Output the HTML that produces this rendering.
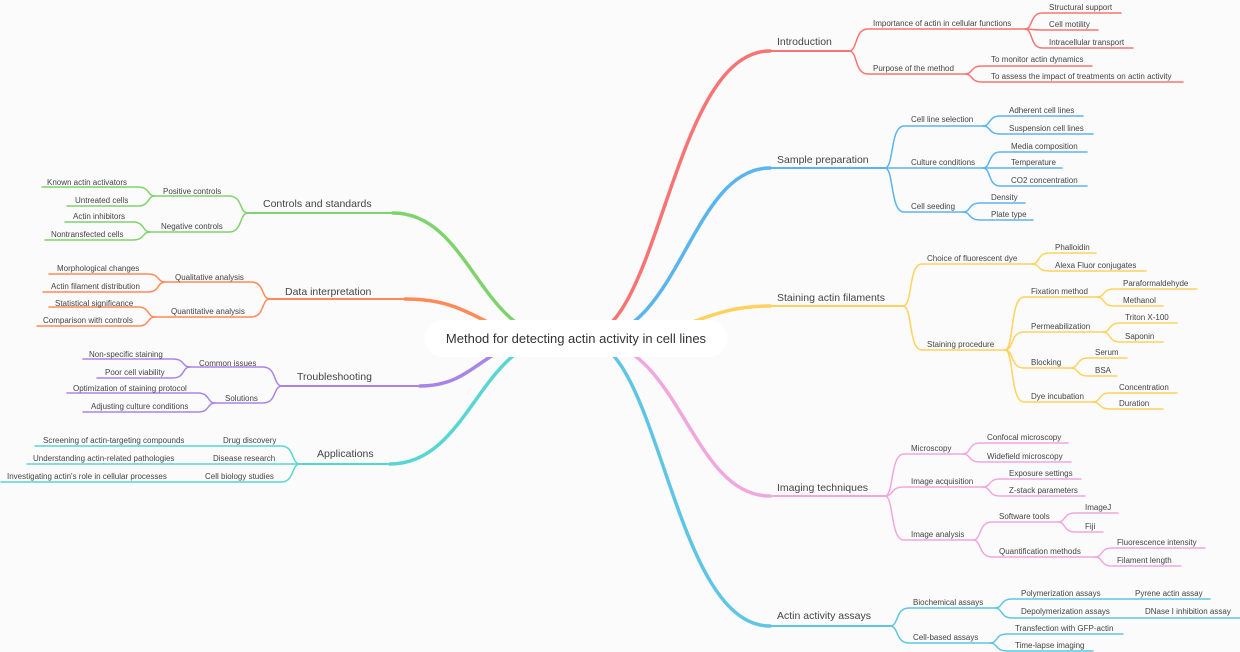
<!DOCTYPE html>
<html><head><meta charset="utf-8"><style>
html,body{margin:0;padding:0;background:#fbfbfb;}
svg{display:block;}
text{font-family:"Liberation Sans",sans-serif;fill:#444;}
.s{font-size:8px;}
.m{font-size:10.5px;fill:#333;}
path{fill:none;stroke-linecap:round;}
</style></head><body>
<svg width="1240" height="652" viewBox="0 0 1240 652" xmlns="http://www.w3.org/2000/svg">
<g stroke-width="3.5">
<path stroke="#f87474" d="M585 336 C660 336 672 51 770 51"/>
<path stroke="#5ab4ee" d="M590 338 C680 338 690 168 770 168"/>
<path stroke="#ffd25e" d="M600 338 C690 338 700 306 770 306"/>
<path stroke="#f2a6de" d="M590 340 C680 340 690 496 770 496"/>
<path stroke="#5ec6e4" d="M585 340 C660 340 672 626 770 626"/>
<path stroke="#7fd36c" d="M560 338 C480 338 470 213 393 213"/>
<path stroke="#ff8a58" d="M560 338 C480 338 480 299 405 299"/>
<path stroke="#a984e8" d="M560 338 C480 338 480 386 420 386"/>
<path stroke="#58d6d2" d="M560 338 C480 338 470 464 390 464"/>
</g>
<g stroke-width="2">
<path stroke="#f87474" d="M765 51 L849 51"/>
<path stroke="#5ab4ee" d="M765 168 L885 168"/>
<path stroke="#ffd25e" d="M765 306 L903 306"/>
<path stroke="#f2a6de" d="M765 496 L885 496"/>
<path stroke="#5ec6e4" d="M765 626 L890 626"/>
<path stroke="#7fd36c" d="M248 213 L398 213"/>
<path stroke="#ff8a58" d="M270 299 L410 299"/>
<path stroke="#a984e8" d="M282 386 L425 386"/>
<path stroke="#58d6d2" d="M300 464 L395 464"/>
</g>
<g class="m">
<text x="777" y="45">Introduction</text>
<text x="777" y="163">Sample preparation</text>
<text x="777" y="301">Staining actin filaments</text>
<text x="777" y="491">Imaging techniques</text>
<text x="777" y="619">Actin activity assays</text>
<text x="263" y="207">Controls and standards</text>
<text x="285" y="295">Data interpretation</text>
<text x="297" y="380">Troubleshooting</text>
<text x="317" y="457">Applications</text>
</g>

<g stroke="#f87474" stroke-width="1.5">
<path d="M849 51 C858 51 854 29 868 29 L1025 29"/>
<path d="M849 51 C858 51 854 74 868 74 L965 74"/>
<path d="M1025 29 C1033 29 1030 13 1042 13 L1121 13"/>
<path d="M1025 29 C1033 29 1030 30 1042 30 L1098 30"/>
<path d="M1025 29 C1033 29 1030 48 1042 48 L1133 48"/>
<path d="M965 74 C973 74 970 66 982 66 L1092 66"/>
<path d="M965 74 C973 74 970 82 982 82 L1183 82"/>
</g>
<g class="s">
<text x="873" y="26">Importance of actin in cellular functions</text>
<text x="873" y="71">Purpose of the method</text>
<text x="1049" y="10">Structural support</text>
<text x="1049" y="27">Cell motility</text>
<text x="1049" y="45">Intracellular transport</text>
<text x="991" y="62">To monitor actin dynamics</text>
<text x="991" y="79">To assess the impact of treatments on actin activity</text>
</g>

<g stroke="#5ab4ee" stroke-width="1.5">
<path d="M885 168 C894 168 890 126 904 126 L983 126"/>
<path d="M885 168 L983 168"/>
<path d="M885 168 C894 168 890 212 904 212 L963 212"/>
<path d="M983 126 C991 126 988 116 1000 116 L1083 116"/>
<path d="M983 126 C991 126 988 134 1000 134 L1093 134"/>
<path d="M983 168 C991 168 988 152 1000 152 L1087 152"/>
<path d="M983 168 L1062 168"/>
<path d="M983 168 C991 168 988 186 1000 186 L1087 186"/>
<path d="M963 212 C971 212 968 203 980 203 L1025 203"/>
<path d="M963 212 C971 212 968 220 980 220 L1033 220"/>
</g>
<g class="s">
<text x="911" y="122">Cell line selection</text>
<text x="911" y="165">Culture conditions</text>
<text x="911" y="209">Cell seeding</text>
<text x="1009" y="113">Adherent cell lines</text>
<text x="1009" y="131">Suspension cell lines</text>
<text x="1011" y="149">Media composition</text>
<text x="1011" y="165">Temperature</text>
<text x="1011" y="183">CO2 concentration</text>
<text x="991" y="200">Density</text>
<text x="991" y="217">Plate type</text>
</g>

<g stroke="#ffd25e" stroke-width="1.5">
<path d="M903 306 C913 306 908 264 922 264 L1032 264"/>
<path d="M903 306 C913 306 908 350 922 350 L1005 350"/>
<path d="M1032 264 C1040 264 1037 253 1049 253 L1096 253"/>
<path d="M1032 264 C1040 264 1037 271 1049 271 L1146 271"/>
<path d="M1005 350 C1014 350 1010 297 1024 297 L1097 297"/>
<path d="M1005 350 C1014 350 1010 332 1024 332 L1103 332"/>
<path d="M1005 350 C1014 350 1010 368 1024 368 L1071 368"/>
<path d="M1005 350 C1014 350 1010 402 1024 402 L1093 402"/>
<path d="M1097 297 C1105 297 1102 289 1114 289 L1197 289"/>
<path d="M1097 297 C1105 297 1102 306 1114 306 L1163 306"/>
<path d="M1103 332 C1111 332 1108 323 1120 323 L1177 323"/>
<path d="M1103 332 C1111 332 1108 342 1120 342 L1163 342"/>
<path d="M1071 368 C1079 368 1076 358 1088 358 L1127 358"/>
<path d="M1071 368 C1079 368 1076 376 1088 376 L1117 376"/>
<path d="M1093 402 C1101 402 1098 393 1110 393 L1177 393"/>
<path d="M1093 402 C1101 402 1098 409 1110 409 L1163 409"/>
</g>
<g class="s">
<text x="927" y="261">Choice of fluorescent dye</text>
<text x="927" y="347">Staining procedure</text>
<text x="1055" y="250">Phalloidin</text>
<text x="1055" y="268">Alexa Fluor conjugates</text>
<text x="1031" y="294">Fixation method</text>
<text x="1031" y="329">Permeabilization</text>
<text x="1031" y="365">Blocking</text>
<text x="1031" y="399">Dye incubation</text>
<text x="1123" y="286">Paraformaldehyde</text>
<text x="1123" y="303">Methanol</text>
<text x="1125" y="320">Triton X-100</text>
<text x="1125" y="339">Saponin</text>
<text x="1095" y="355">Serum</text>
<text x="1095" y="373">BSA</text>
<text x="1119" y="390">Concentration</text>
<text x="1119" y="406">Duration</text>
</g>

<g stroke="#f2a6de" stroke-width="1.5">
<path d="M885 496 C894 496 890 454 904 454 L963 454"/>
<path d="M885 496 C894 496 890 487 904 487 L983 487"/>
<path d="M885 496 C894 496 890 540 904 540 L973 540"/>
<path d="M963 454 C971 454 968 443 980 443 L1068 443"/>
<path d="M963 454 C971 454 968 462 980 462 L1071 462"/>
<path d="M983 487 C991 487 988 479 1000 479 L1081 479"/>
<path d="M983 487 C991 487 988 496 1000 496 L1085 496"/>
<path d="M973 540 C982 540 978 522 992 522 L1058 522"/>
<path d="M973 540 C982 540 978 557 992 557 L1095 557"/>
<path d="M1058 522 C1066 522 1063 513 1075 513 L1118 513"/>
<path d="M1058 522 C1066 522 1063 532 1075 532 L1103 532"/>
<path d="M1095 557 C1103 557 1100 548 1112 548 L1205 548"/>
<path d="M1095 557 C1103 557 1100 566 1112 566 L1181 566"/>
</g>
<g class="s">
<text x="911" y="451">Microscopy</text>
<text x="911" y="484">Image acquisition</text>
<text x="911" y="537">Image analysis</text>
<text x="987" y="440">Confocal microscopy</text>
<text x="987" y="459">Widefield microscopy</text>
<text x="1009" y="476">Exposure settings</text>
<text x="1009" y="493">Z-stack parameters</text>
<text x="999" y="519">Software tools</text>
<text x="999" y="554">Quantification methods</text>
<text x="1085" y="510">ImageJ</text>
<text x="1085" y="529">Fiji</text>
<text x="1117" y="545">Fluorescence intensity</text>
<text x="1117" y="563">Filament length</text>
</g>

<g stroke="#5ec6e4" stroke-width="1.5">
<path d="M890 626 C899 626 895 608 909 608 L995 608"/>
<path d="M890 626 C899 626 895 643 909 643 L990 643"/>
<path d="M995 608 C1003 608 1000 599 1012 599 L1210 599"/>
<path d="M995 608 C1003 608 1000 618 1012 618 L1240 618"/>
<path d="M990 643 C998 643 995 634 1007 634 L1123 634"/>
<path d="M990 643 C998 643 995 651 1007 651 L1093 651"/>
</g>
<g class="s">
<text x="913" y="605">Biochemical assays</text>
<text x="913" y="640">Cell-based assays</text>
<text x="1021" y="596">Polymerization assays</text>
<text x="1135" y="596">Pyrene actin assay</text>
<text x="1021" y="614">Depolymerization assays</text>
<text x="1145" y="614">DNase I inhibition assay</text>
<text x="1015" y="631">Transfection with GFP-actin</text>
<text x="1015" y="648">Time-lapse imaging</text>
</g>

<g stroke="#7fd36c" stroke-width="1.5">
<path d="M248 213 C239 213 243 196 229 196 L155 196"/>
<path d="M248 213 C239 213 243 232 229 232 L150 232"/>
<path d="M155 196 C147 196 150 187 138 187 L42 187"/>
<path d="M155 196 C147 196 150 206 138 206 L67 206"/>
<path d="M150 232 C142 232 145 222 133 222 L65 222"/>
<path d="M150 232 C142 232 145 240 133 240 L45 240"/>
</g>
<g class="s">
<text x="163" y="194">Positive controls</text>
<text x="161" y="229">Negative controls</text>
<text x="47" y="185">Known actin activators</text>
<text x="75" y="203">Untreated cells</text>
<text x="73" y="219">Actin inhibitors</text>
<text x="51" y="237">Nontransfected cells</text>
</g>

<g stroke="#ff8a58" stroke-width="1.5">
<path d="M270 299 C261 299 265 282 251 282 L165 282"/>
<path d="M270 299 C261 299 265 317 251 317 L155 317"/>
<path d="M165 282 C157 282 160 274 148 274 L49 274"/>
<path d="M165 282 C157 282 160 292 148 292 L43 292"/>
<path d="M155 317 C147 317 150 307 138 307 L49 307"/>
<path d="M155 317 C147 317 150 326 138 326 L37 326"/>
</g>
<g class="s">
<text x="175" y="280">Qualitative analysis</text>
<text x="171" y="314">Quantitative analysis</text>
<text x="57" y="271">Morphological changes</text>
<text x="51" y="289">Actin filament distribution</text>
<text x="55" y="306">Statistical significance</text>
<text x="43" y="323">Comparison with controls</text>
</g>

<g stroke="#a984e8" stroke-width="1.5">
<path d="M282 386 C273 386 277 367 263 367 L190 367"/>
<path d="M282 386 C273 386 277 403 263 403 L215 403"/>
<path d="M190 367 C182 367 185 359 173 359 L83 359"/>
<path d="M190 367 C182 367 185 378 173 378 L97 378"/>
<path d="M215 403 C207 403 210 393 198 393 L67 393"/>
<path d="M215 403 C207 403 210 412 198 412 L83 412"/>
</g>
<g class="s">
<text x="199" y="366">Common issues</text>
<text x="225" y="401">Solutions</text>
<text x="89" y="357">Non-specific staining</text>
<text x="105" y="375">Poor cell viability</text>
<text x="73" y="391">Optimization of staining protocol</text>
<text x="91" y="409">Adjusting culture conditions</text>
</g>

<g stroke="#58d6d2" stroke-width="1.5">
<path d="M300 464 C291 464 295 446 281 446 L35 446"/>
<path d="M300 464 L27 464"/>
<path d="M300 464 C291 464 295 482 281 482 L1 482"/>
</g>
<g class="s">
<text x="43" y="443">Screening of actin-targeting compounds</text>
<text x="223" y="443">Drug discovery</text>
<text x="33" y="461">Understanding actin-related pathologies</text>
<text x="213" y="461">Disease research</text>
<text x="7" y="479">Investigating actin's role in cellular processes</text>
<text x="205" y="479">Cell biology studies</text>
</g>

<rect x="425" y="320" width="302" height="37" rx="18" fill="#ffffff"/>
<text x="576" y="343" text-anchor="middle" style="font-size:13px;fill:#333">Method for detecting actin activity in cell lines</text>
</svg>
</body></html>
